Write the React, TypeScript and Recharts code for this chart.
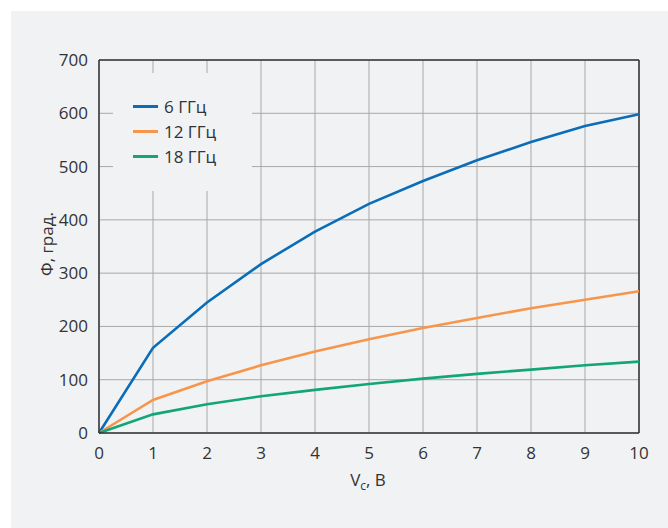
import { LineChart, Line, XAxis, YAxis, CartesianGrid, Legend, ReferenceLine, Label } from 'recharts';

const voltages = [0, 1, 2, 3, 4, 5, 6, 7, 8, 9, 10];
const phase6 = [0, 160, 245, 317, 378, 430, 473, 512, 546, 576, 598];
const phase12 = [0, 62, 97, 127, 153, 176, 197, 216, 234, 250, 266];
const phase18 = [0, 35, 54, 69, 81, 92, 102, 111, 119, 127, 134];
const xTicks = [0, 1, 2, 3, 4, 5, 6, 7, 8, 9, 10];
const yTicks = [0, 100, 200, 300, 400, 500, 600, 700];

const series = [
  { key: 's6', name: '6 ГГц', color: '#0b6db8' },
  { key: 's12', name: '12 ГГц', color: '#f7964b' },
  { key: 's18', name: '18 ГГц', color: '#12a677' },
];

const data = voltages.map((v, i) => ({ v, s6: phase6[i], s12: phase12[i], s18: phase18[i] }));

const font = '"Open Sans", "Noto Sans", sans-serif';
const bg = '#f1f2f4';

function LegendBox() {
  return (
    <div style={{ background: bg, width: 139, height: 118, paddingTop: 21, boxSizing: 'border-box' }}>
      {series.map((s) => (
        <div key={s.key} style={{ display: 'flex', alignItems: 'center', height: 25, paddingLeft: 20 }}>
          <div style={{ width: 25, height: 3, background: s.color, marginRight: 6 }} />
          <span style={{ fontFamily: font, fontSize: 17, color: '#333', lineHeight: '25px' }}>{s.name}</span>
        </div>
      ))}
    </div>
  );
}

export default function App() {
  return (
    <div style={{ position: 'absolute', left: 0, top: 0, width: 668, height: 528, background: '#fff' }}>
      <div style={{ position: 'absolute', left: 11, top: 11, right: 0, bottom: 0, background: bg }} />
      <div style={{ position: 'absolute', left: 0, top: 0 }}>
        <LineChart width={668} height={528} data={data} margin={{ top: 60, right: 29, bottom: 65, left: 39 }}>
          <CartesianGrid stroke="#a8a8a8" strokeWidth={1} />
          <XAxis
            dataKey="v"
            type="number"
            domain={[0, 10]}
            ticks={xTicks}
            height={30}
            stroke="#333"
            strokeWidth={1.5}
            tickLine={false}
            tickSize={0}
            tickMargin={14}
            tick={{ fill: '#333', fontSize: 17, fontFamily: font }}
          >
            <Label
              content={() => (
                <text x={368} y={486} textAnchor="middle" fill="#333" fontSize={17} fontFamily={font}>
                  V<tspan fontSize={12} dy={4}>c</tspan>
                  <tspan dy={-4}>, В</tspan>
                </text>
              )}
            />
          </XAxis>
          <YAxis
            type="number"
            domain={[0, 700]}
            ticks={yTicks}
            width={60}
            stroke="#333"
            strokeWidth={1.5}
            tickLine={false}
            tickSize={0}
            tickMargin={11}
            tick={{ fill: '#333', fontSize: 17, fontFamily: font }}
          >
            <Label
              content={() => (
                <text x={53} y={244} transform="rotate(-90 53 244)" textAnchor="middle" fill="#333" fontSize={17} fontFamily={font}>
                  Φ, град.
                </text>
              )}
            />
          </YAxis>
          <ReferenceLine y={700} stroke="#333" strokeWidth={1.5} />
          <ReferenceLine x={10} stroke="#333" strokeWidth={1.5} />
          <Legend
            content={() => <LegendBox />}
            layout="horizontal"
            align="center"
            verticalAlign="middle"
            wrapperStyle={{ left: 113, top: 73, width: 139 }}
          />
          {series.map((s) => (
            <Line
              key={s.key}
              dataKey={s.key}
              name={s.name}
              stroke={s.color}
              strokeWidth={2.6}
              dot={false}
              type="linear"
              isAnimationActive={false}
            />
          ))}
        </LineChart>
      </div>
    </div>
  );
}
